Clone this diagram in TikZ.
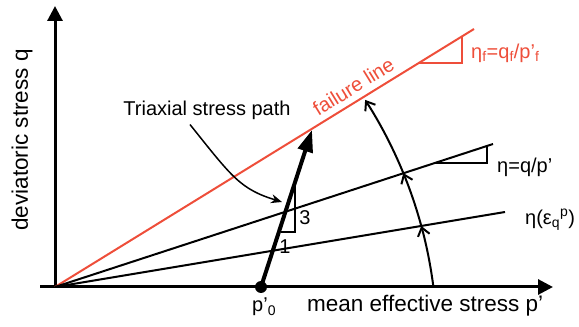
\documentclass[tikz,border=0pt]{standalone}
\usepackage{fontspec}
\setmainfont{Liberation Sans}
\usetikzlibrary{arrows.meta,positioning}
\definecolor{failred}{RGB}{238,78,58}

\begin{document}
\begin{tikzpicture}[
  x=1pt, y=1pt,
  axis/.style={line width=3pt, -{Triangle[length=15pt,width=15pt]}},
  ray/.style={line width=2pt},
  fail/.style={line width=2pt, draw=failred},
  lbl/.style={font=\fontsize{20}{24}\selectfont, inner sep=0pt},
  biglbl/.style={font=\fontsize{22.5}{27}\selectfont, inner sep=0pt},
  turn/.style={line width=2pt, -{Straight Barb[length=8pt,width=12pt]}},
  spath/.style={line width=4pt, -{Triangle[length=22pt,width=15pt]}},
  lead/.style={line width=1.5pt, -{Stealth[length=11pt,width=9pt]}},
  dot/.style={circle, fill, inner sep=0pt, minimum size=12pt}
]
\useasboundingbox (0,0) rectangle (579,327);
% axes
\coordinate (o) at (55,40);
\coordinate (xs) at (40,40);
\coordinate (xe) at (553,40);
\coordinate (ye) at (55,321);
\draw[axis] (xs) -- (xe);
\draw[axis] (o) -- (ye);
\node[biglbl, rotate=90] (qlab) at (22,187) {deviatoric stress q};
\node[biglbl, anchor=base west] (plab) at (307,15) {mean effective stress p’};

% stress ratio lines
\coordinate (f) at (474,298);
\coordinate (e) at (493,183);
\coordinate (g) at (505,115);
\draw[fail] (o) -- (f) node[pos=0.73, sloped, above=6pt, lbl, text=failred] (flab) {failure line};
\draw[fail] (418,264) -| (462,290);
\node[lbl, anchor=west, text=failred] (etaf) at (471,274)
  {η\textsubscript{f}=q\textsubscript{f}/p’\textsubscript{f}};
\draw[ray] (o) -- (e);
\draw[ray] (435,164) -| (487,181);
\node[lbl, anchor=west] (eta) at (497,160) {η=q/p’};
\draw[ray] (o) -- (g);
\node[lbl, anchor=west] (etae) at (525,107) {η(ε\textsubscript{q}\textsuperscript{p})};

% rotation of the ratio
\coordinate (a0) at (433.4,40.1);
\draw[turn] (a0) arc[start angle=7.3, end angle=15.2, radius=451] coordinate (a1);
\draw[turn] (a1) arc[start angle=15.2, end angle=22.3, radius=451] coordinate (a2);
\draw[turn] (a2) arc[start angle=22.3, end angle=32.8, radius=451] coordinate (a3);

% triaxial path
\node[dot] (p0) at (261,40) {};
\node[lbl, anchor=base west] (p0lab) at (252,15) {p’\textsubscript{0}};
\coordinate (t) at (312,197);
\draw[spath] (p0.center) -- (t);
\draw[ray, line width=1.5pt] (281,95) -| (295,144);
\node[lbl] (three) at (305,109) {3};
\node[lbl] (one) at (285,80) {1};
\node[lbl] (tri) at (207,217) {Triaxial stress path};
\coordinate (hit) at (282,125);
\draw[lead] ([xshift=-17pt,yshift=-5pt]tri.south) .. controls (232,150) and (240,138) .. (hit);
\end{tikzpicture}
\end{document}
